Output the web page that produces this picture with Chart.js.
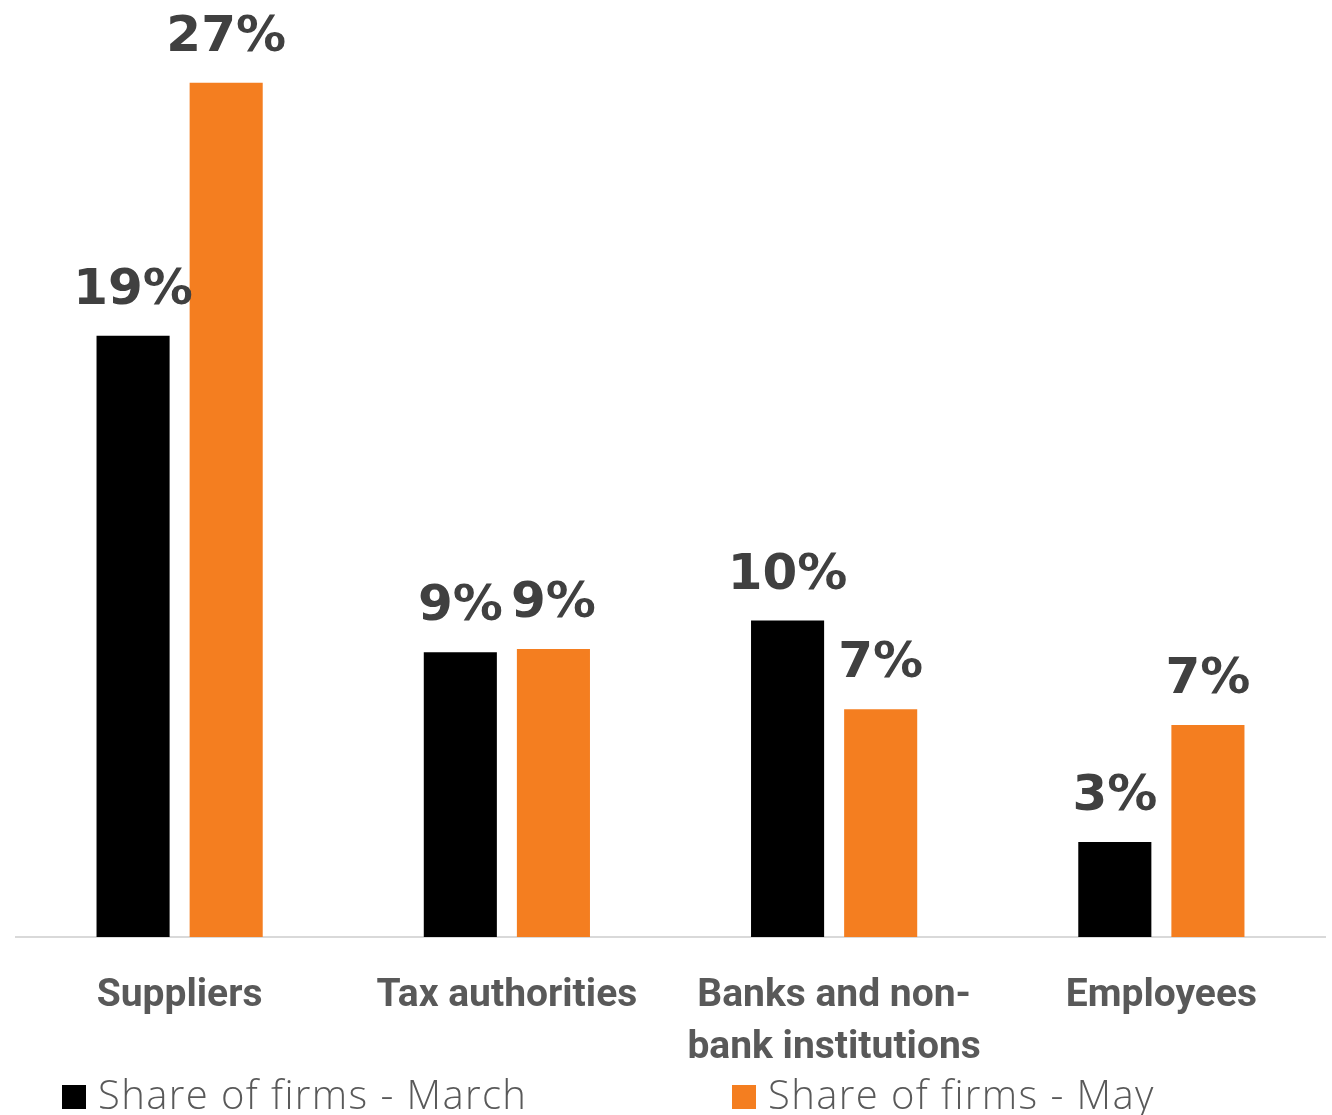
<!DOCTYPE html>
<html>
<head>
<meta charset="utf-8">
<script src="https://cdn.jsdelivr.net/npm/chart.js@4/dist/chart.umd.min.js"></script>
<style>
  html, body { margin: 0; padding: 0; background: #ffffff; }
  #wrap { width: 1332px; height: 1115px; position: relative; }
</style>
</head>
<body>
<div id="wrap"><canvas id="chart"></canvas></div>
<script>
// Who firms owe arrears to, share of firms by survey month
const categories = [
  'Suppliers',
  'Tax authorities',
  ['Banks and non-', 'bank institutions'],
  'Employees'
];
const seriesNames = ['Share of firms - March', 'Share of firms - May'];
const marchValues = [19, 9, 10, 3];
const mayValues = [27, 9.1, 7.2, 6.7];
const seriesColors = ['#000000', '#F47E20'];

const labelColor = '#404040';
const axisTextColor = '#595959';

// Percentage labels above each bar
const valueLabels = {
  id: 'valueLabels',
  afterDatasetsDraw(chart) {
    const ctx = chart.ctx;
    ctx.save();
    ctx.font = 'bold 50px "DejaVu Sans"';
    ctx.fillStyle = labelColor;
    ctx.textAlign = 'center';
    ctx.textBaseline = 'alphabetic';
    chart.data.datasets.forEach((ds, di) => {
      const meta = chart.getDatasetMeta(di);
      meta.data.forEach((bar, i) => {
        ctx.fillText(Math.round(ds.data[i]) + '%', bar.x, bar.y - 32);
      });
    });
    ctx.restore();
  }
};

// Legend row along the bottom edge, one column per series
const bottomLegend = {
  id: 'bottomLegend',
  afterDraw(chart) {
    const ctx = chart.ctx;
    ctx.save();
    ctx.font = '300 40px "Open Sans"';
    ctx.letterSpacing = '1.4px';
    ctx.textBaseline = 'middle';
    ctx.textAlign = 'left';
    chart.data.datasets.forEach((ds, i) => {
      const x = 62 + i * 670;
      const y = 1097;
      ctx.fillStyle = ds.backgroundColor;
      ctx.fillRect(x, y - 12, 24, 24);
      ctx.fillStyle = axisTextColor;
      ctx.fillText(ds.label, x + 36, y + 1);
    });
    ctx.restore();
  }
};

new Chart(document.getElementById('chart'), {
  type: 'bar',
  data: {
    labels: categories,
    datasets: [
      { label: seriesNames[0], data: marchValues, backgroundColor: seriesColors[0] },
      { label: seriesNames[1], data: mayValues, backgroundColor: seriesColors[1] }
    ]
  },
  options: {
    responsive: true,
    maintainAspectRatio: false,
    animation: false,
    datasets: {
      bar: { categoryPercentage: 0.569, barPercentage: 0.785 }
    },
    layout: { padding: { left: 16, right: 7, top: 51, bottom: 0 } },
    plugins: {
      legend: { display: false },
      tooltip: { enabled: false }
    },
    scales: {
      x: {
        grid: { display: true, color: 'transparent', drawTicks: false },
        border: { display: true, color: '#d9d9d9', width: 2 },
        ticks: {
          color: axisTextColor,
          font: { family: 'Roboto', weight: 'bold', size: 39, lineHeight: '52px' },
          padding: 33,
          maxRotation: 0,
          autoSkip: false
        },
        afterFit(scale) { scale.height = 178; }
      },
      y: {
        display: false,
        min: 0,
        max: 28
      }
    }
  },
  plugins: [valueLabels, bottomLegend]
});
</script>
</body>
</html>
